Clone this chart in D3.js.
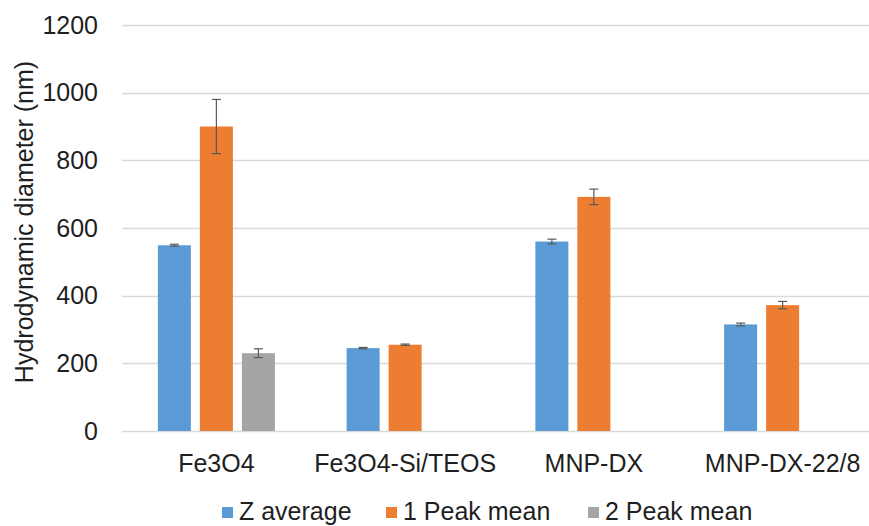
<!DOCTYPE html>
<html>
<head>
<meta charset="utf-8">
<script src="https://cdn.jsdelivr.net/npm/d3@7"></script>
<style>
  body { margin: 0; background: #fff; }
  svg { display: block; font-family: "Liberation Sans", Arial, sans-serif; }
</style>
</head>
<body>
<div id="chart"></div>
<script>
// Categories and series
const categories = ["Fe3O4", "Fe3O4-Si/TEOS", "MNP-DX", "MNP-DX-22/8"];
const seriesNames = ["Z average", "1 Peak mean", "2 Peak mean"];

// values per series (null = no bar)
const zAverage = [549, 245, 560, 315];
const peak1Mean = [900, 255, 692, 372];
const peak2Mean = [230, null, null, null];

// error (+/-) per series
const zAverageErr = [3, 2, 7, 4];
const peak1Err = [80, 2, 23, 11];
const peak2Err = [13, null, null, null];

const yTicks = [0, 200, 400, 600, 800, 1000, 1200];
const colors = ["#5B9BD5", "#ED7D31", "#A5A5A5"];

const width = 869, height = 526;
const margin = { left: 122, right: -8, top: 25, bottom: 95 };
const fontSize = 25;

const svg = d3.select("#chart").append("svg")
  .attr("width", width)
  .attr("height", height);

const x0 = d3.scaleBand()
  .domain(categories)
  .range([margin.left, width - margin.right])
  .paddingInner(0.38)
  .paddingOuter(0.19);

const x1 = d3.scaleBand()
  .domain(seriesNames)
  .range([0, x0.bandwidth()])
  .paddingInner(0.214);

const y = d3.scaleLinear()
  .domain([0, 1200])
  .range([height - margin.bottom, margin.top]);

// gridlines
svg.append("g")
  .selectAll("line")
  .data(yTicks)
  .enter()
  .append("line")
  .attr("x1", margin.left)
  .attr("x2", width - margin.right)
  .attr("y1", d => Math.round(y(d)) + 0.5)
  .attr("y2", d => Math.round(y(d)) + 0.5)
  .attr("stroke", "#D9D9D9")
  .attr("stroke-width", 1.3);

// y axis labels (no line, no ticks)
const yAxis = svg.append("g")
  .attr("transform", `translate(${margin.left - 24},0)`)
  .call(d3.axisLeft(y).tickValues(yTicks).tickFormat(d3.format("d")).tickSize(0).tickPadding(0));
yAxis.select(".domain").remove();
yAxis.selectAll("text")
  .attr("font-size", fontSize)
  .attr("font-family", "Liberation Sans, Arial, sans-serif")
  .attr("fill", "#1f1f1f");

// y axis title
svg.append("text")
  .attr("transform", `translate(33,${(y(0) + y(1200)) / 2 - 6}) rotate(-90)`)
  .attr("text-anchor", "middle")
  .attr("font-size", fontSize)
  .attr("fill", "#1f1f1f")
  .text("Hydrodynamic diameter (nm)");

// bar data
const seriesValues = [zAverage, peak1Mean, peak2Mean];
const seriesErr = [zAverageErr, peak1Err, peak2Err];
const barData = [];
categories.forEach((c, ci) => {
  seriesNames.forEach((s, si) => {
    const v = seriesValues[si][ci];
    if (v !== null) barData.push({ cat: c, series: s, si: si, value: v, err: seriesErr[si][ci] });
  });
});

svg.append("g")
  .selectAll("rect")
  .data(barData)
  .enter()
  .append("rect")
  .attr("x", d => x0(d.cat) + x1(d.series))
  .attr("y", d => y(d.value))
  .attr("width", x1.bandwidth())
  .attr("height", d => y(0) - y(d.value))
  .attr("fill", d => colors[d.si]);

// error bars
const errG = svg.append("g")
  .attr("stroke", "#595959")
  .attr("stroke-width", 1.2);

barData.forEach(d => {
  const cx = x0(d.cat) + x1(d.series) + x1.bandwidth() / 2;
  const top = y(d.value + d.err), bot = y(d.value - d.err);
  errG.append("line").attr("x1", cx).attr("x2", cx).attr("y1", top).attr("y2", bot);
  errG.append("line").attr("x1", cx - 4.5).attr("x2", cx + 4.5).attr("y1", top).attr("y2", top);
  errG.append("line").attr("x1", cx - 4.5).attr("x2", cx + 4.5).attr("y1", bot).attr("y2", bot);
});

// x category labels
svg.append("g")
  .selectAll("text")
  .data(categories)
  .enter()
  .append("text")
  .attr("x", d => x0(d) + x0.bandwidth() / 2)
  .attr("y", 472)
  .attr("text-anchor", "middle")
  .attr("font-size", fontSize)
  .attr("fill", "#1f1f1f")
  .text(d => d);

// legend
const legendX = [222, 386, 588];
const legend = svg.append("g");
seriesNames.forEach((s, i) => {
  legend.append("rect")
    .attr("x", legendX[i])
    .attr("y", 507)
    .attr("width", 11)
    .attr("height", 11)
    .attr("fill", colors[i]);
  legend.append("text")
    .attr("x", legendX[i] + 17)
    .attr("y", 520)
    .attr("font-size", fontSize)
    .attr("fill", "#1f1f1f")
    .text(s);
});
</script>
</body>
</html>
